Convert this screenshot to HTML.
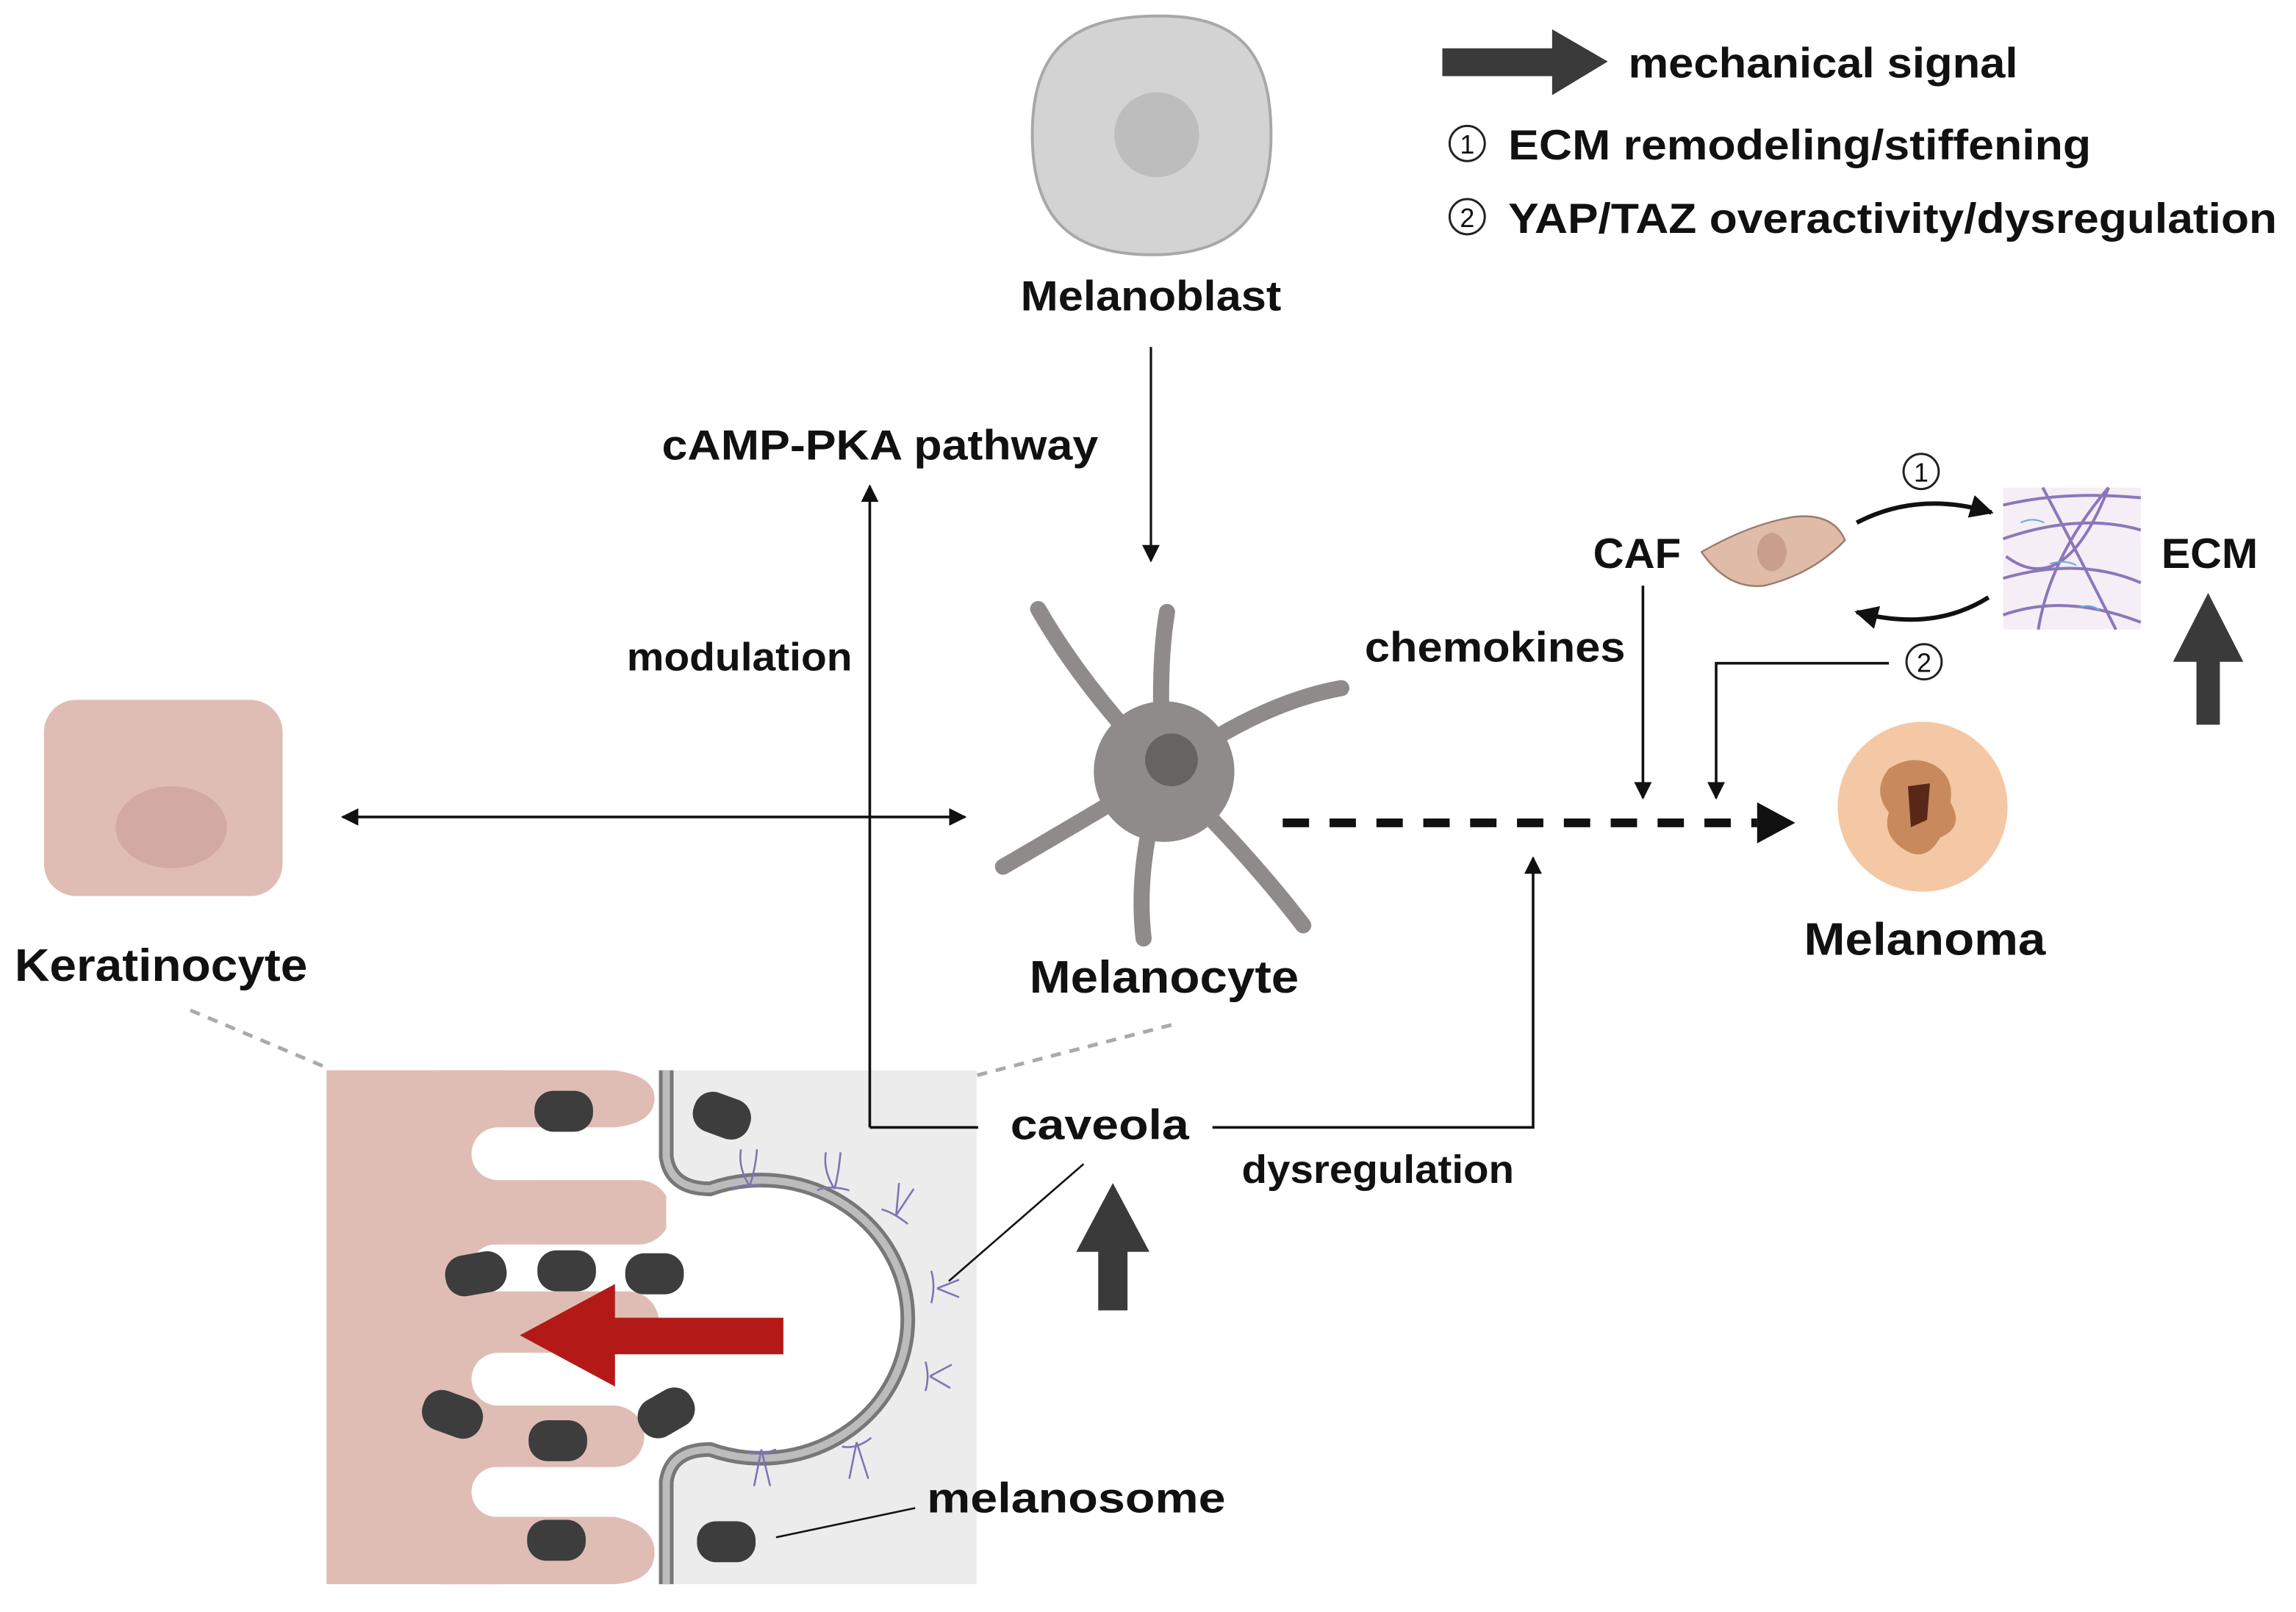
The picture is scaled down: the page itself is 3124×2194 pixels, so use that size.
<!DOCTYPE html>
<html><head><meta charset="utf-8"><style>
html,body{margin:0;padding:0;background:#fff;}
svg{display:block;}
text{font-family:"Liberation Sans",Arial,sans-serif;font-weight:bold;fill:#111;}
</style></head><body>
<svg width="3124" height="2194" viewBox="0 0 1568 1101" preserveAspectRatio="none" xmlns="http://www.w3.org/2000/svg">
<defs>
<marker id="ah" viewBox="0 0 10 10" refX="9" refY="5" markerWidth="12" markerHeight="12" markerUnits="userSpaceOnUse" orient="auto-start-reverse">
<path d="M0,0 L10,5 L0,10 z" fill="#111"/></marker>
<marker id="ahb" viewBox="0 0 10 10" refX="9" refY="5" markerWidth="16" markerHeight="16" markerUnits="userSpaceOnUse" orient="auto-start-reverse">
<path d="M0,0 L10,5 L0,10 z" fill="#111"/></marker>
</defs>
<rect width="1568" height="1101" fill="#fff"/>

<path d="M985,33 L1060,33 L1060,20 L1098,42 L1060,65 L1060,52 L985,52 z" fill="#3a3a3a"/>
<text x="1112" y="53" font-size="29" textLength="266" lengthAdjust="spacingAndGlyphs">mechanical signal</text>
<circle cx="1002" cy="98" r="12" fill="none" stroke="#222" stroke-width="1.5"/>
<text x="1002" y="105" font-size="18" text-anchor="middle" style="font-weight:normal">1</text>
<text x="1030" y="109" font-size="29" textLength="398" lengthAdjust="spacingAndGlyphs">ECM remodeling/stiffening</text>
<circle cx="1002" cy="148" r="12" fill="none" stroke="#222" stroke-width="1.5"/>
<text x="1002" y="155" font-size="18" text-anchor="middle" style="font-weight:normal">2</text>
<text x="1030" y="159" font-size="29" textLength="525" lengthAdjust="spacingAndGlyphs">YAP/TAZ overactivity/dysregulation</text>

<path d="M787,11 C850,9 868,40 868,92 C868,145 845,174 787,174 C730,174 705,148 705,92 C705,38 728,12 787,11 z" fill="#d3d3d3" stroke="#a8a8a8" stroke-width="2"/>
<circle cx="790" cy="92" r="29" fill="#bdbdbd"/>
<text x="697" y="212" font-size="29" textLength="178" lengthAdjust="spacingAndGlyphs">Melanoblast</text>
<line x1="786" y1="237" x2="786" y2="383" stroke="#111" stroke-width="1.6" marker-end="url(#ah)"/>

<text x="452" y="314" font-size="29" textLength="298" lengthAdjust="spacingAndGlyphs">cAMP-PKA pathway</text>
<text x="428" y="458" font-size="27" textLength="154" lengthAdjust="spacingAndGlyphs">modulation</text>

<rect x="30" y="478" width="163" height="134" rx="22" fill="#dfbdb5"/>
<ellipse cx="117" cy="565" rx="38" ry="28" fill="#d3aaa2"/>
<text x="10" y="670" font-size="31" textLength="200" lengthAdjust="spacingAndGlyphs">Keratinocyte</text>
<line x1="234" y1="558" x2="659" y2="558" stroke="#111" stroke-width="1.8" marker-start="url(#ah)" marker-end="url(#ah)"/>

<g stroke="#8f8b8b" stroke-linecap="round" fill="none">
<path d="M795,527 Q740,470 709,416" stroke-width="11"/>
<path d="M795,527 Q790,460 797,418" stroke-width="11"/>
<path d="M795,527 Q860,480 916,470" stroke-width="11"/>
<path d="M795,527 Q740,560 685,592" stroke-width="11"/>
<path d="M795,527 Q775,590 781,641" stroke-width="11"/>
<path d="M795,527 Q850,580 890,632" stroke-width="11"/>
</g>
<circle cx="795" cy="527" r="48" fill="#8f8b8b"/>
<circle cx="800" cy="519" r="18" fill="#676363"/>
<text x="703" y="678" font-size="31" textLength="184" lengthAdjust="spacingAndGlyphs">Melanocyte</text>

<text x="932" y="452" font-size="29" textLength="178" lengthAdjust="spacingAndGlyphs">chemokines</text>

<line x1="876" y1="562" x2="1200" y2="562" stroke="#111" stroke-width="6" stroke-dasharray="18,14"/>
<path d="M1200,548 L1226,562 L1200,576 z" fill="#111"/>

<text x="1088" y="388" font-size="29" textLength="60" lengthAdjust="spacingAndGlyphs">CAF</text>
<path d="M1162,377 Q1195,358 1225,353 Q1252,350 1260,369 Q1238,392 1205,400 Q1180,403 1162,377 z" fill="#dfbba8" stroke="#9a7b6a" stroke-width="1.2"/>
<ellipse cx="1210" cy="377" rx="10" ry="13" fill="#c99e8b"/>
<line x1="1122" y1="400" x2="1122" y2="545" stroke="#111" stroke-width="1.8" marker-end="url(#ah)"/>
<polyline points="1290,453 1172,453 1172,545" fill="none" stroke="#111" stroke-width="1.8" marker-end="url(#ah)"/>
<circle cx="1314" cy="452" r="12" fill="none" stroke="#222" stroke-width="1.5"/>
<text x="1314" y="459" font-size="18" text-anchor="middle" style="font-weight:normal">2</text>
<circle cx="1312" cy="322" r="12" fill="none" stroke="#222" stroke-width="1.5"/>
<text x="1312" y="329" font-size="18" text-anchor="middle" style="font-weight:normal">1</text>
<path d="M1268,357 Q1310,335 1360,350" fill="none" stroke="#111" stroke-width="3" marker-end="url(#ahb)"/>
<path d="M1358,408 Q1320,432 1268,418" fill="none" stroke="#111" stroke-width="3" marker-end="url(#ahb)"/>

<rect x="1368" y="333" width="94" height="97" fill="#f6eef6"/>
<g stroke="#7a62b0" stroke-width="2" fill="none" opacity="0.85">
<path d="M1368,345 Q1410,335 1462,340"/><path d="M1368,368 Q1420,350 1462,362"/>
<path d="M1368,395 Q1420,380 1462,398"/><path d="M1368,420 Q1410,405 1462,425"/>
<path d="M1395,333 Q1420,380 1445,430"/><path d="M1440,333 Q1400,380 1392,430"/>
<path d="M1370,380 Q1410,410 1440,333"/>
</g>
<g stroke="#6aa8d8" stroke-width="1" fill="none"><path d="M1380,357 q8,-4 16,0"/><path d="M1400,385 q10,-3 18,1"/><path d="M1420,415 q8,-3 14,2"/></g>
<text x="1476" y="388" font-size="29" textLength="66" lengthAdjust="spacingAndGlyphs">ECM</text>
<path d="M1500,495 L1516,495 L1516,452 L1532,452 L1508,405 L1484,452 L1500,452 z" fill="#3a3a3a"/>

<circle cx="1313" cy="551" r="58" fill="#f4c8a4"/>
<path d="M1290,525 Q1305,515 1320,522 Q1335,530 1332,548 Q1342,565 1325,572 Q1315,590 1300,580 Q1285,570 1290,555 Q1278,540 1290,525 z" fill="#c88a5c"/>
<path d="M1303,537 L1318,535 L1316,560 L1305,565 z" fill="#5a2818"/>
<text x="1232" y="652" font-size="31" textLength="165" lengthAdjust="spacingAndGlyphs">Melanoma</text>

<line x1="130" y1="690" x2="225" y2="730" stroke="#aaa" stroke-width="2.5" stroke-dasharray="7,6"/>
<line x1="800" y1="700" x2="665" y2="735" stroke="#aaa" stroke-width="2.5" stroke-dasharray="7,6"/>

<!-- bottom panel -->
<rect x="455" y="731" width="212" height="351" fill="#ececec"/>
<rect x="223" y="731" width="232" height="351" fill="#fff"/>
<rect x="223" y="731" width="120" height="351" fill="#dfbdb5"/>
<g fill="#dfbdb5">
<path d="M300,731 L420,731 Q447,735 447,750 Q447,767 420,770 L300,770 z"/>
<rect x="300" y="806" width="158" height="44" rx="22"/>
<rect x="300" y="882" width="150" height="42" rx="21"/>
<rect x="300" y="960" width="140" height="42" rx="21"/>
<path d="M300,1036 L420,1036 Q447,1042 447,1060 Q447,1080 420,1082 L300,1082 z"/>
</g>
<g fill="#fff">
<rect x="322" y="770" width="60" height="36" rx="18"/>
<rect x="322" y="850" width="60" height="32" rx="16"/>
<rect x="322" y="924" width="60" height="36" rx="18"/>
<rect x="322" y="1002" width="60" height="34" rx="17"/>
</g>
<path d="M455,790 Q458,812 485,812 A100,95 0 1 1 485,990 Q458,990 455,1012 L455,790 z" fill="#fff"/>
<path d="M455,731 L455,790 Q458,812 485,812 A100,95 0 1 1 485,990 Q458,990 455,1012 L455,1082" fill="none" stroke="#777" stroke-width="10"/>
<path d="M455,731 L455,790 Q458,812 485,812 A100,95 0 1 1 485,990 Q458,990 455,1012 L455,1082" fill="none" stroke="#bcbcbc" stroke-width="5"/>
<g stroke="#7d74b4" stroke-width="1.3" fill="none">
<path d="M512,810 q-8,-12 -6,-25 M512,810 q4,-12 5,-25 M500,812 q8,-4 20,-2"/>
<path d="M570,812 q-8,-12 -6,-25 M570,812 q3,-12 4,-25 M558,813 q8,-4 22,0"/>
<path d="M612,830 l2,-22 M612,830 l12,-18 M602,826 q8,2 18,10"/>
<path d="M640,880 l15,-6 M640,880 l15,6 M636,868 q3,10 0,22"/>
<path d="M635,940 l15,-8 M635,940 l14,8 M632,930 q3,10 0,20"/>
<path d="M585,985 l-5,25 M585,985 l8,25 M575,988 q10,2 20,-6"/>
<path d="M520,990 l-5,25 M520,990 l6,25 M510,992 q10,2 20,-2"/>
</g>
<g fill="#3d3d3d">
<rect x="365" y="745" width="40" height="28" rx="13"/>
<rect x="473" y="748" width="40" height="28" rx="13" transform="rotate(20 493 762)"/>
<rect x="304" y="856" width="42" height="28" rx="13" transform="rotate(-10 325 870)"/>
<rect x="367" y="854" width="40" height="28" rx="13"/>
<rect x="427" y="856" width="40" height="28" rx="13"/>
<rect x="288" y="952" width="42" height="28" rx="13" transform="rotate(20 309 966)"/>
<rect x="361" y="970" width="40" height="28" rx="13"/>
<rect x="435" y="951" width="40" height="28" rx="13" transform="rotate(-30 455 965)"/>
<rect x="360" y="1038" width="40" height="28" rx="13"/>
<rect x="476" y="1039" width="40" height="28" rx="13"/>
</g>
<line x1="530" y1="1050" x2="625" y2="1030" stroke="#111" stroke-width="1.3"/>
<text x="633" y="1033" font-size="29" textLength="204" lengthAdjust="spacingAndGlyphs">melanosome</text>
<path d="M535,900 L420,900 L420,877 L355,912 L420,947 L420,925 L535,925 z" fill="#b31a17"/>

<line x1="594" y1="770" x2="594" y2="332" stroke="#111" stroke-width="1.8" marker-end="url(#ah)"/>
<line x1="594" y1="770" x2="668" y2="770" stroke="#111" stroke-width="1.8"/>
<text x="690" y="778" font-size="29" textLength="122" lengthAdjust="spacingAndGlyphs">caveola</text>
<polyline points="828,770 1047,770 1047,586" fill="none" stroke="#111" stroke-width="1.8" marker-end="url(#ah)"/>
<text x="848" y="808" font-size="27" textLength="186" lengthAdjust="spacingAndGlyphs">dysregulation</text>
<line x1="740" y1="795" x2="648" y2="875" stroke="#111" stroke-width="1.3"/>
<path d="M750,895 L770,895 L770,855 L785,855 L760,808 L735,855 L750,855 z" fill="#3a3a3a"/>
</svg>
</body></html>
